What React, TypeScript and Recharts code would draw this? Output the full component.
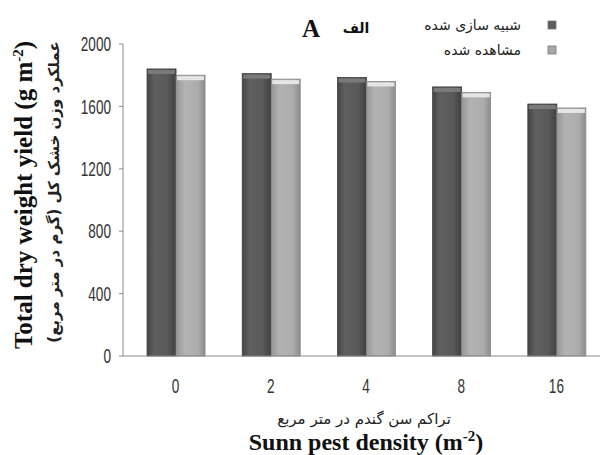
import { BarChart, Bar, XAxis, YAxis } from 'recharts';

const densities = ['0', '2', '4', '8', '16'];
const simulated = [1840, 1810, 1785, 1725, 1615];
const observed = [1800, 1775, 1760, 1690, 1590];
const yTicks = [0, 400, 800, 1200, 1600, 2000];
const seriesNames = ['شبیه سازی شده', 'مشاهده شده'];

const data = densities.map((d, i) => ({ name: d, sim: simulated[i], obs: observed[i] }));

const serif = '"Liberation Serif", "Times New Roman", serif';
const sans = '"Liberation Sans", Arial, sans-serif';
const persian = '"DejaVu Sans", sans-serif';

// narrow digits like Arial Narrow: squeeze horizontally
function NarrowTick(props: any) {
  const { x, y, payload, anchor } = props;
  return (
    <g transform={`translate(${x},${y}) scale(0.68,1)`}>
      <text x={0} y={0} dy="0.36em" textAnchor={anchor} fontFamily={sans} fontSize={20} fill="#333">
        {payload.value}
      </text>
    </g>
  );
}

// bar with a little bevelled top like the excel 3d look
function BevelBar(props: any) {
  const { x, y, width, height, fill, cap, edge } = props;
  if (!height || height <= 0) return null;
  return (
    <g>
      <rect x={x} y={y} width={width} height={height} fill={fill} stroke={edge} strokeWidth={0.8} />
      <rect x={x + 1} y={y + 1} width={width - 2} height={4} fill={cap} />
    </g>
  );
}

export default function App() {
  const legendColors = ['#5c5c5c', '#a8a8a8'];
  return (
    <div style={{ position: 'absolute', left: 0, top: 0, width: 600, height: 455, background: '#fff', overflow: 'hidden' }}>
      <BarChart width={604} height={455} data={data} margin={{ top: 44, right: 0, bottom: 69, left: 0 }} barCategoryGap="20%" barGap={0}>
        <defs>
          <linearGradient id="gDark" x1="0" y1="0" x2="1" y2="0">
            <stop offset="0%" stopColor="#454545" />
            <stop offset="25%" stopColor="#5f5f5f" />
            <stop offset="70%" stopColor="#5a5a5a" />
            <stop offset="100%" stopColor="#404040" />
          </linearGradient>
          <linearGradient id="gLight" x1="0" y1="0" x2="1" y2="0">
            <stop offset="0%" stopColor="#969696" />
            <stop offset="30%" stopColor="#b3b3b3" />
            <stop offset="75%" stopColor="#acacac" />
            <stop offset="100%" stopColor="#8c8c8c" />
          </linearGradient>
        </defs>
        <XAxis
          dataKey="name"
          padding={{ left: 5, right: 0 }}
          axisLine={{ stroke: '#8c8c8c' }}
          tickLine={false}
          tick={(p: any) => <NarrowTick {...p} y={p.y + 22} anchor="middle" />}
        />
        <YAxis
          width={123}
          domain={[0, 2000]}
          ticks={yTicks}
          axisLine={{ stroke: '#8c8c8c' }}
          tickLine={{ stroke: '#8c8c8c' }}
          tickSize={4}
          tick={(p: any) => <NarrowTick {...p} x={p.x - 6} anchor="end" />}
        />
        <Bar
          dataKey="sim"
          name={seriesNames[0]}
          fill="url(#gDark)"
          shape={(p: any) => <BevelBar {...p} cap="#7a7a7a" edge="#3c3c3c" />}
          isAnimationActive={false}
        />
        <Bar
          dataKey="obs"
          name={seriesNames[1]}
          fill="url(#gLight)"
          shape={(p: any) => <BevelBar {...p} cap="#e6e6e6" edge="#888" />}
          isAnimationActive={false}
        />
      </BarChart>
      <svg width={600} height={455} style={{ position: 'absolute', left: 0, top: 0, pointerEvents: 'none' }}>
        {seriesNames.map((n, i) => (
          <g key={n}>
            <rect x={548} y={21 + i * 25} width={8} height={8} fill={legendColors[i]} stroke="#777" strokeWidth={0.8} />
            <text x={521} y={30 + i * 25} textAnchor="end" fontFamily={persian} fontSize={14} fill="#222">{n}</text>
          </g>
        ))}
        <text x={311} y={37} textAnchor="middle" fontFamily={serif} fontWeight="bold" fontSize={25} fill="#111">A</text>
        <text x={356} y={33} textAnchor="middle" fontFamily={persian} fontWeight="bold" fontSize={14} fill="#111">الف</text>
        <text transform="translate(32,195) rotate(-90)" textAnchor="middle" fontFamily={serif} fontWeight="bold" fontSize={25} fill="#111">
          Total dry weight yield (g m<tspan dy={-9} fontSize={15}>-2</tspan><tspan dy={9}>)</tspan>
        </text>
        <text transform="translate(59,192) rotate(-90)" textAnchor="middle" fontFamily={persian} fontWeight="bold" fontSize={15} fill="#222">
          عملکرد وزن خشک کل (گرم در متر مربع)
        </text>
        <text x={364} y={424} textAnchor="middle" fontFamily={persian} fontSize={15} fill="#222">تراکم سن گندم در متر مربع</text>
        <text x={366} y={450} textAnchor="middle" fontFamily={serif} fontWeight="bold" fontSize={24} fill="#111">
          Sunn pest density (m<tspan dy={-9} fontSize={15}>-2</tspan><tspan dy={9}>)</tspan>
        </text>
      </svg>
    </div>
  );
}
